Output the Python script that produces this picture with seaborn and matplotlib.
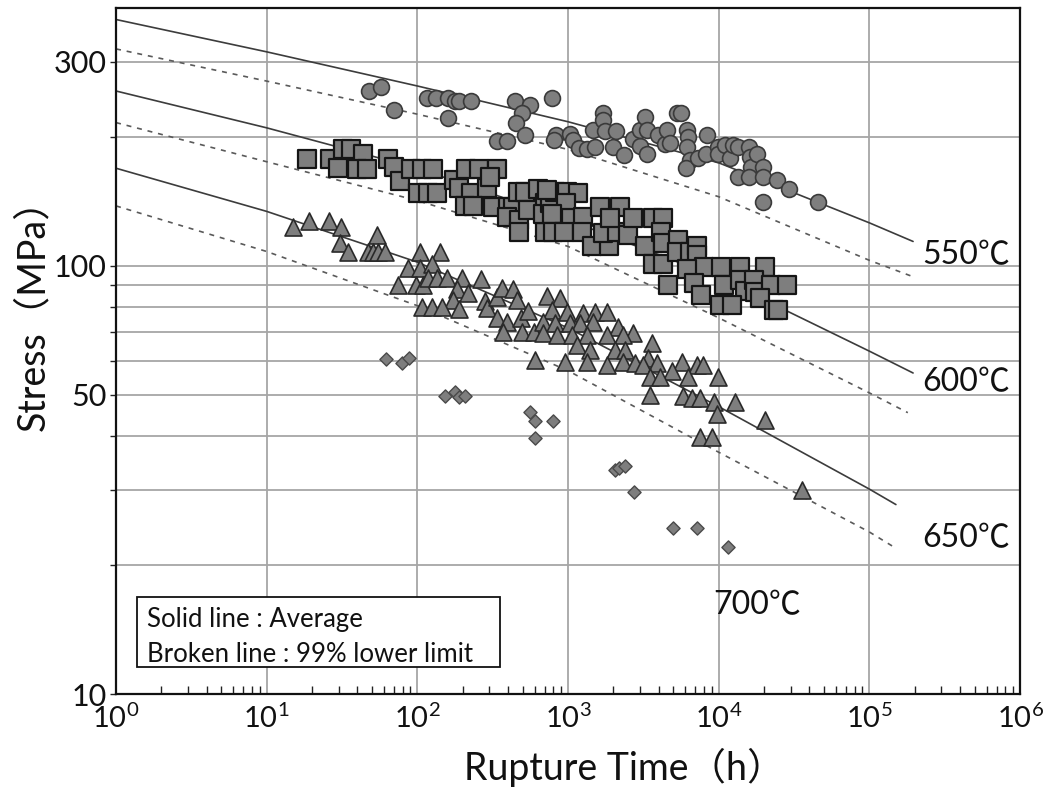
import matplotlib
matplotlib.use("Agg")
import matplotlib.pyplot as plt
import numpy as np
import pandas as pd
import seaborn as sns
from matplotlib.patches import Rectangle
from matplotlib.ticker import FixedLocator, FixedFormatter, LogLocator, NullFormatter

# ---------------- creep rupture test results ----------------
# rupture time (h) and applied stress (MPa) per test temperature
hours_550 = [48, 57, 70, 116, 133, 160, 178, 189, 227, 160, 444, 559, 494, 451, 518,
             337, 393, 782, 832, 806, 1030, 1078, 1181, 1334, 1463, 1510, 1706, 1706,
             1757, 1986, 2080, 2350, 2697, 3001, 3001, 3238, 3340, 3340, 3951, 4399,
             4532, 4745, 5280, 5610, 6151, 6250, 6151, 6441, 6056, 7280, 8225, 8350,
             9880, 9880, 11000, 11860, 12420, 13400, 15850, 16100, 16360, 17910, 19640,
             13400, 15850, 19640, 24330, 29240, 19640, 45500]
stress_550 = [256, 262, 231, 247, 247, 247, 242, 242, 242, 222, 242, 238, 228, 216, 202,
              196, 196, 247, 202, 197, 203, 197, 188, 187, 208, 189, 228, 219,
              207, 189, 207, 181, 198, 190, 208, 223, 208, 182, 202, 193,
              208, 194, 228, 228, 208, 200, 189, 177, 169, 179, 182, 202,
              189, 182, 192, 179, 192, 189, 189, 180, 170, 182, 170,
              161, 161, 161, 159, 151, 141, 141]

hours_600 = [18.5, 26.3, 32.1, 36.3, 43.5, 29.7, 39.7, 46.3, 63.8, 70, 76.7, 90.7, 107,
             127, 101, 118, 135, 175, 189, 227, 290, 210, 256, 337, 207, 234, 318, 399,
             431, 465, 518, 631, 393, 472, 472, 542, 703, 703, 681, 303,
             759, 818, 984, 1164, 724, 968, 782, 1045, 1256, 794, 939, 1236, 1442, 1867,
             1629, 2208, 1706, 2113, 1897, 2495, 2697, 3238, 3656, 4266, 4132, 4266,
             3656, 4266, 5358, 5280, 6441, 7164, 7164, 7980, 10350, 13830, 20280, 4603,
             6151, 6842, 7621, 10830, 13830, 14930, 17130, 17390, 22190, 28370, 10180,
             12240, 18750, 23230, 24720]
stress_600 = [178, 178, 187, 187, 182, 169, 168, 168, 178, 170, 158, 168, 168,
              168, 148, 148, 148, 159, 152, 148, 152, 168, 168, 168, 138, 138, 137, 137,
              137, 149, 149, 151, 130, 128, 120, 135, 140, 120, 132, 161,
              140, 149, 149, 148, 150, 140, 132, 129, 130, 120, 120, 120, 111, 111,
              137, 137, 119, 120, 129, 118, 129, 111, 129, 129, 120, 113,
              101, 101, 115, 108, 108, 111, 106, 99.5, 99.5, 99.5, 99.5, 90.3,
              98.4, 91.3, 85.6, 90.3, 92.7, 87.4, 92.7, 86.9, 90.3, 90.3, 81.1,
              81.1, 84.2, 78.9, 78.9]

hours_650 = [14.9, 19.1, 25.9, 31.1, 30.6, 34.6, 54, 47, 50.7, 54.8, 61, 104, 141, 86.7,
             104, 125, 74.3, 97.9, 109, 118, 135, 157, 198, 264, 183, 217, 172, 107,
             125, 146, 189, 281, 290, 337, 364, 431, 458, 337, 393, 487, 370, 494, 594,
             542, 603, 724, 884, 782, 984, 1256, 1510, 1812, 681, 818, 1030, 1199, 1463,
             2143, 2697, 681, 844, 1062, 1334, 1812, 2312, 3606, 1146, 1398, 2047, 2388,
             3390, 953, 1334, 1812, 2312, 2780, 3141, 3890, 5700, 7164, 7855, 4890,
             3494, 4074, 6250, 9880, 3494, 5780, 6637, 7500, 9290, 12820, 9730, 20280,
             7500, 9016, 35650]
stress_650 = [123, 127, 127, 123, 113, 108, 118, 108, 108, 108, 108, 108, 108, 98.9,
              98.9, 101, 90.3, 90.3, 90.3, 93.8, 93.8, 93.8, 93.8, 93.2, 88.4, 86.5, 83.3, 80.2,
              80.2, 80.2, 79.4, 82.8, 79.8, 84.6, 88.8, 88.4, 83.3, 75.6, 74, 75.6, 70.1, 70.1, 70.1,
              78.5, 60.3, 85.1, 84.2, 78.9, 78.1, 77.7, 78.1, 78.1, 74, 73.6, 73.6, 73.6, 74,
              72, 69.7, 69.7, 69, 69, 69, 69, 69, 66.1, 65.4, 63.6, 63.6, 63.6,
              61, 59.7, 59.7, 58.7, 59.7, 59.3, 58.7, 59.3, 59.7, 58.7, 58.7, 56.8,
              55.1, 55.1, 55.1, 55.1, 50, 49.7, 49.2, 49.2, 48.1, 48.1, 45.1, 43.7,
              39.9, 39.9, 30]

hours_700 = [61.9, 79, 88, 152, 178, 189, 207, 559, 603, 794, 603, 2047, 2177, 2388,
             2736, 4966, 7164, 11510]
stress_700 = [60.7, 59.3, 61, 49.7, 50.8, 49.4, 49.7, 45.6, 43.5, 43.5, 39.6, 33.4, 33.7,
              34.1, 29.6, 24.4, 24.4, 22.1]

# ---------------- fitted master curves ----------------
curve_hours_550 = [1, 10, 100, 1000, 10000, 100000, 195000]
avg_550 = [376, 316, 263, 217, 174, 126, 114]
low_550 = [321, 270, 226, 187, 145, 103, 94.3]

curve_hours_600 = [1, 10, 100, 1000, 10000, 100000, 195000]
avg_600 = [256, 210, 169, 128, 93.8, 63.2, 56.2]
curve_hours_600_low = [1, 10, 100, 1000, 10000, 100000, 180000]
low_600 = [216, 175, 142, 111, 75.6, 50.5, 45.4]

curve_hours_650 = [1, 10, 100, 1000, 10000, 100000, 150000]
avg_650 = [169, 134, 102, 71.6, 46.9, 30.1, 27.7]
low_650 = [138, 108, 80.7, 56.9, 36.7, 23.9, 21.9]

temp_labels = ["550℃", "600℃", "650℃", "700℃"]
label_pos_hours = [2.26e5, 2.26e5, 2.26e5, 1.79e4]
label_pos_stress = [106, 53.4, 23.1, 16.1]

x_ticks = [1, 10, 100, 1e3, 1e4, 1e5, 1e6]
x_ticklabels = [r"$\mathregular{10^{%d}}$" % k for k in range(7)]
y_ticks = [10, 50, 100, 300]
y_ticklabels = ["10", "50", "100", "300"]
y_minor = [20, 30, 40, 60, 70, 80, 90, 200]

# ---------------- styling ----------------
sns.set_style("white")
plt.rcParams["font.family"] = ["Lato", "Noto Sans CJK JP", "DejaVu Sans"]
plt.rcParams["mathtext.fontset"] = "custom"
plt.rcParams["mathtext.rm"] = "Lato"

fig = plt.figure(figsize=(10.53, 7.93), dpi=100)
ax = fig.add_axes([0.1102, 0.1248, 0.8585, 0.8651])
ax.set_xscale("log")
ax.set_yscale("log")

grid_col = "#a6a6a6"
ax.set_axisbelow(True)

# master curves
line_kw = dict(ax=ax, estimator=None, sort=False, legend=False, zorder=2)
for hrs, vals in [(curve_hours_550, avg_550), (curve_hours_600, avg_600),
                  (curve_hours_650, avg_650)]:
    sns.lineplot(x=hrs, y=vals, color="#3c3c3c", linewidth=1.2, **line_kw)
for hrs, vals in [(curve_hours_550, low_550), (curve_hours_600_low, low_600),
                  (curve_hours_650, low_650)]:
    sns.lineplot(x=hrs, y=vals, color="#5a5a5a", linewidth=1.2,
                 linestyle=(0, (3, 3.5)), **line_kw)

# test points
fill = "#7e7e7e"
groups = [
    (hours_550, stress_550, "o", 130, "#3a3a3a", 1.2),
    (hours_600, stress_600, "s", 155, "#151515", 1.6),
    (hours_650, stress_650, "^", 150, "#2a2a2a", 1.2),
    (hours_700, stress_700, "D", 45, "#4a4a4a", 1.0),
]
for hrs, st, mk, size, edge, lw in groups:
    df = pd.DataFrame({"hours": hrs, "stress": st})
    sns.scatterplot(data=df, x="hours", y="stress", marker=mk, s=size, color=fill,
                    edgecolor=edge, linewidth=lw, ax=ax, zorder=3, legend=False)

# axes, ticks and grid
ax.set_xlim(1, 1e6)
ax.set_ylim(10, 400)
ax.xaxis.set_major_locator(FixedLocator(x_ticks))
ax.xaxis.set_major_formatter(FixedFormatter(x_ticklabels))
ax.xaxis.set_minor_locator(LogLocator(base=10, subs=np.arange(2, 10)))
ax.xaxis.set_minor_formatter(NullFormatter())
ax.yaxis.set_major_locator(FixedLocator(y_ticks))
ax.yaxis.set_major_formatter(FixedFormatter(y_ticklabels))
ax.yaxis.set_minor_locator(FixedLocator(y_minor))
ax.yaxis.set_minor_formatter(NullFormatter())

ax.grid(which="major", axis="both", color=grid_col, linewidth=1.3)
ax.grid(which="minor", axis="y", color=grid_col, linewidth=1.3)
ax.tick_params(axis="x", which="minor", direction="in", length=6, width=1,
               color="#222222", bottom=True, top=False)
ax.tick_params(axis="x", which="major", direction="in", length=0, pad=7,
               labelsize=21, colors="#111111")
ax.tick_params(axis="y", which="both", direction="out", length=4, width=1,
               color="#222222", left=True, pad=3)
ax.tick_params(axis="y", which="major", labelsize=22, labelcolor="#111111")
for sp in ax.spines.values():
    sp.set_color("#111111")
    sp.set_linewidth(1.6)

ax.set_xlabel("Rupture Time（h）", fontsize=27, color="#111111")
ax.set_ylabel("Stress（MPa）", fontsize=27, color="#111111")
ax.xaxis.set_label_coords(0.562, -0.078)
ax.yaxis.set_label_coords(-0.072, 0.566)

# temperature labels
for lab, hx, sy in zip(temp_labels, label_pos_hours, label_pos_stress):
    ha = "left" if hx > 1e5 else "center"
    ax.text(hx, sy, lab, fontsize=23, ha=ha, va="center", color="#111111")

# line-type key
ax.add_patch(Rectangle((0.0232, 0.039), 0.402, 0.102, transform=ax.transAxes,
                       facecolor="white", edgecolor="#111111", linewidth=1.3, zorder=4))
ax.text(0.0343, 0.108, "Solid line : Average", transform=ax.transAxes,
        fontsize=18.5, va="center", ha="left", color="#111111", zorder=5)
ax.text(0.0343, 0.057, "Broken line : 99% lower limit", transform=ax.transAxes,
        fontsize=18.5, va="center", ha="left", color="#111111", zorder=5)

fig.savefig("out.png", dpi=100)
